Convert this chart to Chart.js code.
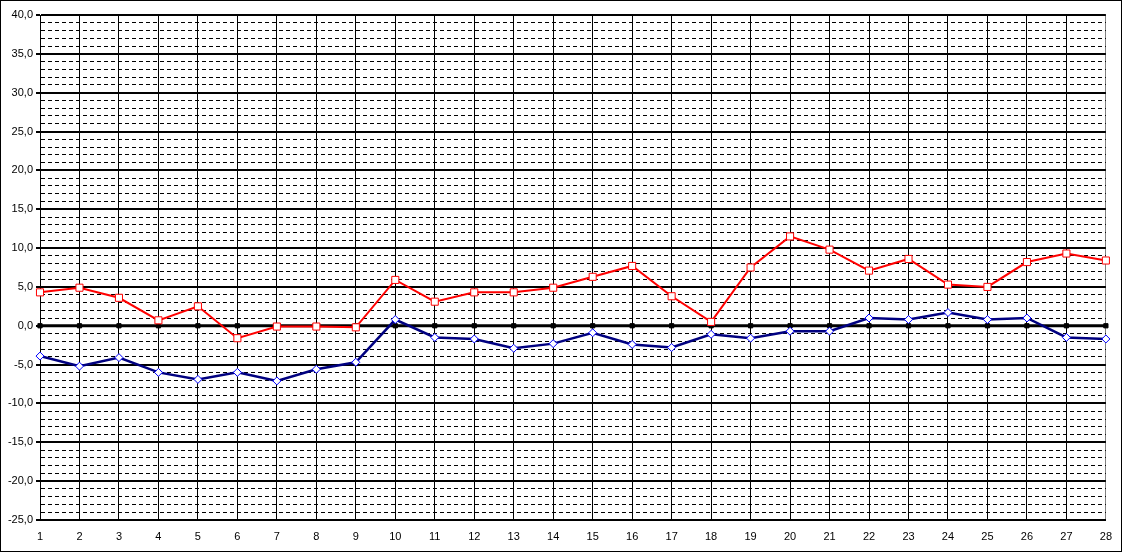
<!DOCTYPE html>
<html>
<head>
<meta charset="utf-8">
<script src="https://cdn.jsdelivr.net/npm/chart.js@4.4.1/dist/chart.umd.min.js"></script>
<style>
html,body{margin:0;padding:0;background:#fff;}
#wrap{width:1122px;height:552px;position:relative;}
</style>
</head>
<body>
<div id="wrap"><canvas id="c" width="1122" height="552"></canvas></div>
<script>
const categories = ['1','2','3','4','5','6','7','8','9','10','11','12','13','14','15','16','17','18','19','20','21','22','23','24','25','26','27','28'];
const maxValues = [4.3, 4.9, 3.6, 0.7, 2.5, -1.6, -0.1, -0.1, -0.2, 5.9, 3.1, 4.3, 4.3, 4.9, 6.3, 7.7, 3.8, 0.5, 7.5, 11.5, 9.8, 7.1, 8.6, 5.3, 5.0, 8.2, 9.3, 8.4];
const minValues = [-3.9, -5.2, -4.1, -6.0, -6.9, -6.0, -7.1, -5.6, -4.7, 0.8, -1.5, -1.7, -2.9, -2.3, -0.9, -2.4, -2.8, -1.1, -1.6, -0.7, -0.7, 1.0, 0.8, 1.7, 0.8, 1.0, -1.5, -1.7];
const zeroValues = [0,0,0,0,0,0,0,0,0,0,0,0,0,0,0,0,0,0,0,0,0,0,0,0,0,0,0,0];
const yMin = -25, yMax = 40;

const frame = {
  id: 'frame',
  afterDraw(chart) {
    const ctx = chart.ctx;
    ctx.save();
    ctx.strokeStyle = '#000';
    ctx.lineWidth = 1;
    ctx.strokeRect(0.5, 0.5, chart.width - 1, chart.height - 1);
    ctx.restore();
  }
};

new Chart(document.getElementById('c'), {
  type: 'line',
  data: {
    labels: categories,
    datasets: [
      {
        label: 'zero', data: zeroValues, borderColor: '#000', backgroundColor: '#000',
        borderWidth: 3, pointStyle: 'rect', pointRadius: 3, pointBorderWidth: 1,
        pointBackgroundColor: '#000', pointBorderColor: '#000', tension: 0, order: 3
      },
      {
        label: 'min', data: minValues, borderColor: '#000080', backgroundColor: '#fff',
        borderWidth: 2.5, pointStyle: 'rectRot', pointRadius: 4, pointBorderWidth: 1,
        pointBackgroundColor: '#fff', pointBorderColor: '#0000ff', tension: 0, order: 2
      },
      {
        label: 'max', data: maxValues, borderColor: '#ff0000', backgroundColor: '#fff',
        borderWidth: 2, pointStyle: 'rect', pointRadius: 5, pointBorderWidth: 1,
        pointBackgroundColor: '#fff', pointBorderColor: '#ff0000', tension: 0, order: 1
      }
    ]
  },
  options: {
    responsive: false,
    animation: false,
    devicePixelRatio: 1,
    layout: { padding: { top: 15, right: 13, bottom: 0, left: 0 } },
    plugins: { legend: { display: false }, tooltip: { enabled: false } },
    scales: {
      x: {
        type: 'category',
        offset: false,
        grid: {
          color: (c) => c.index === categories.length - 1 ? '#808080' : '#000',
          lineWidth: 1,
          drawTicks: false
        },
        border: { display: true, color: '#000', width: 2 },
        ticks: {
          autoSkip: false, maxRotation: 0, padding: 10, color: '#000',
          font: { family: '"Liberation Sans", Arial, sans-serif', size: 11 }
        },
        afterFit: (s) => { s.height = 32; }
      },
      y: {
        min: yMin, max: yMax,
        grid: {
          color: '#000',
          lineWidth: (c) => (c.tick && Math.round(c.tick.value) % 5 === 0) ? 2 : 1,
          tickLength: 4,
          tickColor: (c) => (c.tick && Math.round(c.tick.value) % 5 === 0) ? '#000' : 'rgba(0,0,0,0)'
        },
        border: {
          display: true, color: '#000', width: 1,
          dash: (c) => (c.tick && Math.round(c.tick.value) % 5 === 0) ? [] : [4, 3]
        },
        ticks: {
          stepSize: 1, autoSkip: false, padding: 3, color: '#000',
          font: { family: '"Liberation Sans", Arial, sans-serif', size: 11 },
          callback: (v) => (Math.round(v) % 5 === 0) ? Number(v).toFixed(1).replace('.', ',') : ''
        },
        afterFit: (s) => { s.width = 40; }
      }
    }
  },
  plugins: [frame]
});
</script>
</body>
</html>
